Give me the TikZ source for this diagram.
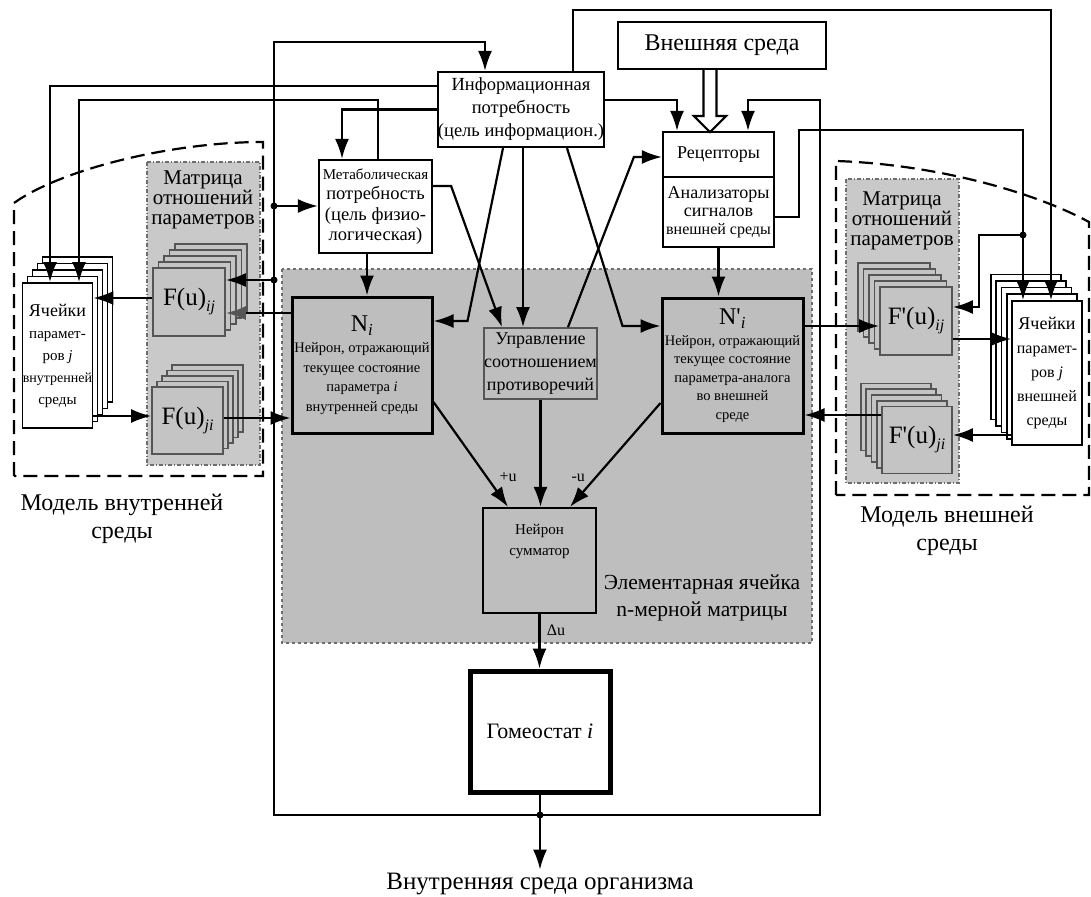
\documentclass[tikz,border=0pt]{standalone}
\usepackage{fontspec}
\setmainfont{Liberation Serif}
\usetikzlibrary{arrows.meta}

\definecolor{zone}{RGB}{190,190,190}
\definecolor{mtx}{RGB}{201,201,201}
\definecolor{fcol}{RGB}{196,196,196}
\definecolor{fline}{RGB}{85,85,85}
\definecolor{zline}{RGB}{110,110,110}

\newcommand{\fsz}[2]{\fontsize{#1}{#2}\selectfont}

\begin{document}
\begin{tikzpicture}[x=1pt,y=-1pt,
  arr/.style={line width=2.2pt,-{Latex[length=20pt,width=14pt]}},
  arrg/.style={line width=2.2pt,-{Latex[length=20pt,width=14pt,color=fline]}},
  box/.style={draw,line width=2.2pt,fill=white,align=center,inner sep=0pt},
  neuron/.style={draw,line width=3pt,fill=zone,align=center,inner sep=0pt,minimum width=140pt,minimum height=136pt,font=\fsz{14.5}{19.5}},
  fbox/.style={draw=fline,line width=1.8pt,fill=fcol,minimum width=72pt,minimum height=68pt,inner sep=0pt,font=\fsz{25}{25}},
  cellbox/.style={draw,line width=1.8pt,fill=white,minimum width=70pt,minimum height=145pt,align=center,inner sep=0pt},
  mtxbox/.style={fill=mtx,draw=zline,line width=1.3pt,dash pattern=on 4pt off 2pt on 1pt off 2pt},
  model/.style={draw,line width=2.2pt,dash pattern=on 14pt off 7pt}]
\useasboundingbox (0,0) rectangle (1091,896);

\draw[model] (14,476) -- (14,203) .. controls (60,170) and (170,142) .. (263,142) -- (263,476) -- cycle;
\draw[model] (836,495) -- (836,161) .. controls (930,164) and (1030,190) .. (1089,222) -- (1089,495) -- cycle;
\draw[mtxbox] (147,162) rectangle (260,465);
\draw[mtxbox] (846,179) rectangle (959,483);
\draw[fill=zone,draw=zline,line width=1.3pt,dashed] (282,269) rectangle (812,643);

\node[box,minimum width=208pt,minimum height=47pt,font=\fsz{24}{28}] (ext) at (722,45.5) {Внешняя среда};
\node[box,minimum width=166pt,minimum height=75pt,font=\fsz{18.5}{23}] (info) at (521,109.5) {Информационная\\потребность\\(цель информацион.)};
\node[box,minimum width=113pt,minimum height=93pt,font=\fsz{18.5}{20.5}] (metab) at (375.5,206.5) {{\fsz{15}{20.5}Метаболическая}\\потребность\\(цель физио-\\логическая)};
\node[box,minimum width=111pt,minimum height=45pt,font=\fsz{18}{21}] (rec) at (718.5,154.5) {Рецепторы};
\node[box,minimum width=111pt,minimum height=70pt,font=\fsz{18}{18}] (anl) at (718.5,212) {Анализаторы\\сигналов\\{\fsz{16}{18}внешней среды}};

\node[neuron] (Ni) at (362,365) {{\fsz{24}{24}N\textsubscript{\itshape i}}\\[2pt]Нейрон, отражающий\\текущее состояние\\параметра \textit{i}\\внутренней среды};
\node[neuron,minimum width=141pt,minimum height=135pt,font=\fsz{14.5}{18.5}] (Nai) at (732.5,365.5) {{\fsz{24}{24}N\textquotesingle\textsubscript{\itshape i}}\\[2pt]Нейрон, отражающий\\текущее состояние\\параметра-аналога\\во внешней\\среде};
\node[draw=fline,line width=1.8pt,fill=zone,minimum width=113pt,minimum height=71pt,inner sep=0pt,align=center,font=\fsz{18}{23}] (ctrl) at (540.5,363.5) {Управление\\соотношением\\противоречий};
\node[draw,line width=2.2pt,fill=zone,minimum width=113pt,minimum height=105pt,inner sep=0pt,align=center,font=\fsz{15}{21}] (sum) at (539.5,560.5) {Нейрон\\сумматор\\~\\~};
\node[draw,line width=5pt,fill=white,minimum width=140pt,minimum height=121pt,font=\fsz{22}{24}] (homeo) at (540,731.5) {Гомеостат \textit{i}};

\foreach \k in {4,3,2,1}
  \node[cellbox] at (57.5+5*\k,355.5-6.5*\k) {};
\node[cellbox,font=\fsz{15}{22}] (cellL) at (57.5,355.5) {{\fsz{18}{22}Ячейки}\\парамет-\\ров \textit{j}\\{\fsz{14}{22}внутренней}\\среды};
\foreach \k in {4,3,2,1}
  \node[fbox] at (189+5.5*\k,302-6*\k) {};
\node[fbox] (fij) at (189,302) {F(u)\raisebox{-6pt}{\fsz{16}{16}\itshape ij}};
\foreach \k in {4,3,2,1}
  \node[fbox,minimum width=71pt,minimum height=67pt] at (187.5+5*\k,420.5-5.5*\k) {};
\node[fbox,minimum width=71pt,minimum height=67pt] (fji) at (187.5,420.5) {F(u)\raisebox{-6pt}{\fsz{16}{16}\itshape ji}};

\foreach \k in {4,3,2,1}
  \node[cellbox] at (1047-5.25*\k,373-6.5*\k) {};
\node[cellbox,minimum height=144pt,font=\fsz{16}{24}] (cellR) at (1047,373) {{\fsz{18}{24}Ячейки}\\парамет-\\ров \textit{j}\\внешней\\среды};
\foreach \k in {4,3,2,1}
  \node[fbox] at (916-5.5*\k,321-6*\k) {};
\node[fbox] (fpij) at (916,321) {F\textquotesingle(u)\raisebox{-6pt}{\fsz{16}{16}\itshape ij}};
\foreach \k in {4,3,2,1}
  \node[fbox,minimum width=70pt,minimum height=67pt] at (917-5.25*\k,440-5.75*\k) {};
\node[fbox,minimum width=70pt,minimum height=67pt] (fpji) at (917,440) {F\textquotesingle(u)\raisebox{-6pt}{\fsz{16}{16}\itshape ji}};

\node[font=\fsz{21}{20},align=center] (mtxL) at (203,200) {Матрица\\отношений\\параметров};
\node[font=\fsz{21}{20},align=center] (mtxR) at (902,221) {Матрица\\отношений\\параметров};
\node[font=\fsz{24}{28},align=center] (envL) at (122,519) {Модель внутренней\\среды};
\node[font=\fsz{24}{28},align=center] (envR) at (947,531) {Модель внешней\\среды};
\node[font=\fsz{21.5}{27},align=center] (cellT) at (702,598) {Элементарная ячейка\\n-мерной матрицы};
\node[font=\fsz{25}{28}] (out) at (540,884) {Внутренняя среда организма};

\coordinate (jn) at (540,815);
\coordinate (fl) at (274,42);
\coordinate (fr) at (820,100);
\coordinate (dL1) at (274,206);
\coordinate (dL2) at (274,280);
\coordinate (dR) at (1023,235);

\draw[line width=2.2pt,fill=white] ([xshift=-18.5pt]ext.south) -- ++(0,46) -- ++(-9.5,0) -- ++(16,16) -- ++(16,-16) -- ++(-9.5,0) -- ++(0,-46);

\draw[arr] (jn) -| (fl) -| ([xshift=-36pt]info.north);
\draw[arr] (jn) -| (fr) -| ([xshift=29.5pt]rec.north);
\draw[arr] (homeo.south) -- (out.north);
\draw[arr] ([yshift=9.5pt]info.east) -| ([xshift=-41.5pt]rec.north);
\draw[arr] ([xshift=52pt]info.north) -- ++(0,-61) -| ([xshift=4pt]cellR.north);
\draw[arr] ([yshift=23.5pt]info.west) -| ([xshift=-7.5pt]cellL.north);
\draw[arr] ([xshift=2.5pt]metab.north) -- ++(0,-59) -| ([xshift=21.5pt]cellL.north);
\draw[arr] (info.west) -| ([xshift=-33.5pt]metab.north);
\draw[arr] ([yshift=20.5pt]metab.east) -- ++(18,0) -- ([xshift=-38.5pt]ctrl.north);
\draw[arr] ([xshift=2pt]info.south) -- ([xshift=-17.5pt]ctrl.north);
\draw[arr] ([xshift=-18pt]info.south) -- ([xshift=34pt,yshift=44pt]Ni.east) -- ([yshift=44pt]Ni.east);
\draw[arr] ([xshift=46pt]info.south) -- ([xshift=-38pt,yshift=39.5pt]Nai.west) -- ([yshift=39.5pt]Nai.west);
\draw[arr] ([xshift=27.5pt]ctrl.north) -- ([xshift=-28pt,yshift=-2.5pt]rec.west) -- ([yshift=-2.5pt]rec.west);
\draw[arr] ([xshift=-8.5pt]metab.south) -- ([xshift=5pt]Ni.north);
\draw[arr] (anl.south) -- (anl.south |- Nai.north);
\draw[arr] ([yshift=-5pt]anl.east) -- ++(24,0) -- ++(0,-87) -| ([xshift=-24pt]cellR.north);
\draw[arr] (dR) -- ++(-44,0) |- ([yshift=14pt]fpij.east);

\draw[arr] (dL1) -- (dL1 -| metab.west);
\draw[arr] (dL2) -- (dL2 -| fij.east);
\draw[arrg] ([yshift=52pt]Ni.west) -- ([yshift=52pt]Ni.west -| fij.east);
\draw[arr] ([yshift=4pt]fij.west) -- ([yshift=4pt]fij.west -| cellL.east);
\draw[arr] ([yshift=4.5pt]fji.west -| cellL.east) -- ([yshift=4.5pt]fji.west);
\draw[arr] ([yshift=2.5pt]fji.east) -- ([yshift=2.5pt]fji.east -| Ni.west);

\draw[arr] ([yshift=39.5pt]Nai.east) -- ([yshift=39.5pt]Nai.east -| fpij.west);
\draw[arr] ([yshift=-18pt]fpij.east) -- ([yshift=-18pt]fpij.east -| cellR.west);
\draw[arr] ([yshift=5pt]fpji.east -| cellR.west) -- ([yshift=5pt]fpji.east);
\draw[arr] ([yshift=25pt]fpji.west) -- ([yshift=25pt]fpji.west -| Nai.east);

\draw[arr] ([yshift=-37pt]Ni.east) -- ([xshift=-31.5pt]sum.north) node[pos=0.72,right=8pt,font=\fsz{16}{16}] {+u};
\draw[arr] (ctrl.south) -- (ctrl.south |- sum.north);
\draw[arr] ([yshift=-37.5pt]Nai.west) -- ([xshift=30.5pt]sum.north) node[pos=0.72,left=6pt,font=\fsz{16}{16}] {-u};
\draw[arr] (sum.south) -- (sum.south |- homeo.north) node[pos=0.3,right=3pt,font=\fsz{16}{16}] {Δu};

\fill (jn) circle (3.5pt);
\fill (dL1) circle (3.5pt);
\fill (dL2) circle (3.5pt);
\fill (dR) circle (3.5pt);
\end{tikzpicture}
\end{document}
